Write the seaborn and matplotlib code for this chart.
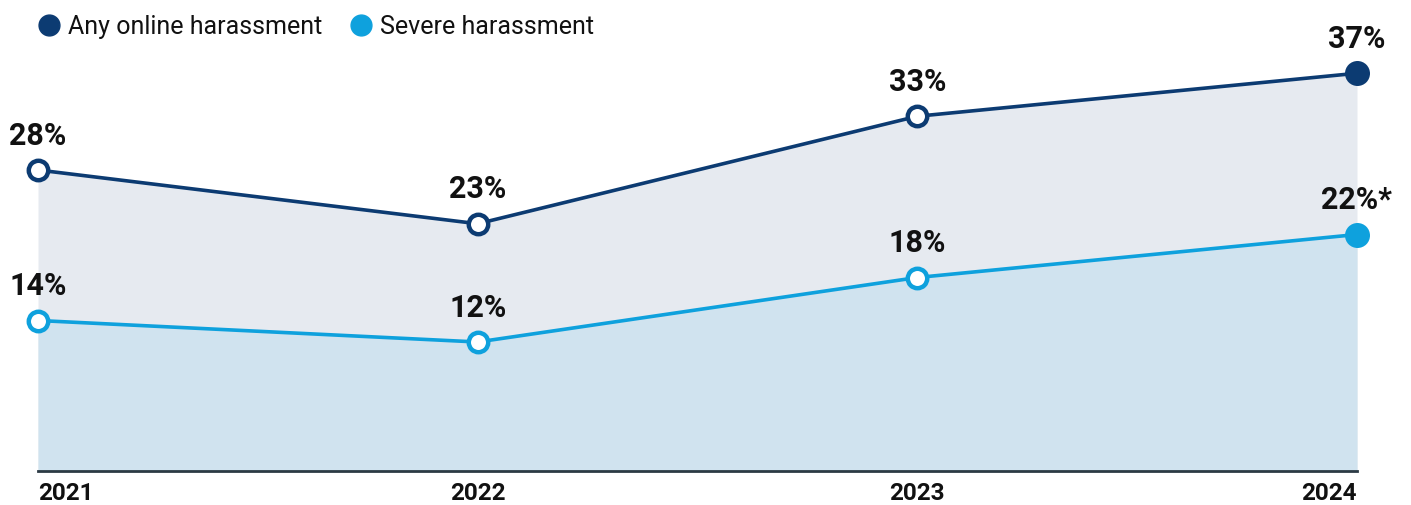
import matplotlib
matplotlib.use("Agg")
import matplotlib.pyplot as plt
from matplotlib.lines import Line2D
import seaborn as sns
import pandas as pd

years = [2021, 2022, 2023, 2024]
any_harassment = [28, 23, 33, 37]
severe_harassment = [14, 12, 18, 22]
any_labels = ["28%", "23%", "33%", "37%"]
severe_labels = ["14%", "12%", "18%", "22%*"]
series_names = ["Any online harassment", "Severe harassment"]

NAVY = "#0c3b72"
BLUE = "#0ea1dd"
FILL_ANY = "#e6eaf0"
FILL_SEVERE = "#d0e3ef"

sns.set_theme(style="white")
plt.rcParams["font.family"] = ["Roboto", "DejaVu Sans"]

df = pd.DataFrame({
    "year": years * 2,
    "value": any_harassment + severe_harassment,
    "series": [series_names[0]] * 4 + [series_names[1]] * 4,
})

fig = plt.figure(figsize=(14.11, 5.05), dpi=100)
ax = fig.add_axes([38 / 1411, 34 / 505, (1357 - 38) / 1411, (471 - 41) / 505])

ax.fill_between(years, any_harassment, 0, color=FILL_ANY, lw=0, zorder=1)
ax.fill_between(years, severe_harassment, 0, color=FILL_SEVERE, lw=0, zorder=2)

sns.lineplot(data=df, x="year", y="value", hue="series",
             palette={series_names[0]: NAVY, series_names[1]: BLUE},
             linewidth=2.6, legend=False, ax=ax, zorder=3)

for vals, labels, color in [(any_harassment, any_labels, NAVY),
                            (severe_harassment, severe_labels, BLUE)]:
    ax.plot(years[:-1], vals[:-1], ls="none", marker="o", ms=14,
            mfc="white", mec=color, mew=3.2, zorder=4, clip_on=False)
    ax.plot(years[-1:], vals[-1:], ls="none", marker="o", ms=18,
            mfc=color, mec=color, mew=0, zorder=4, clip_on=False)
    for x, v, t in zip(years, vals, labels):
        ax.annotate(t, (x, v), xytext=(0, 14), textcoords="offset points",
                    ha="center", va="bottom", fontsize=22, fontweight="bold",
                    color="#111111", zorder=5, annotation_clip=False)

ax.set_xlim(years[0], years[-1])
ax.set_ylim(0, 40)
ax.set_yticks([])
ax.set_xticks(years)
ax.set_xticklabels([str(y) for y in years], fontsize=17.5, fontweight="bold",
                   color="#111111")
ax.tick_params(axis="x", length=0, pad=8)
tl = ax.get_xticklabels()
tl[0].set_ha("left")
tl[-1].set_ha("right")
ax.set_xlabel("")
ax.set_ylabel("")
for s in ["top", "left", "right"]:
    ax.spines[s].set_visible(False)
ax.spines["bottom"].set_color("#2b3a44")
ax.spines["bottom"].set_linewidth(2)
ax.spines["bottom"].set_zorder(6)

handles = [Line2D([], [], ls="none", marker="o", ms=15, mfc=NAVY, mec=NAVY),
           Line2D([], [], ls="none", marker="o", ms=15, mfc=BLUE, mec=BLUE)]
fig.legend(handles, series_names, loc="upper left", bbox_to_anchor=(0.01, 1.015),
           ncol=2, frameon=False, fontsize=18, handletextpad=0.25,
           columnspacing=1.05, handlelength=1.0, labelcolor="#111111")

fig.savefig("out.png", dpi=100, facecolor="white")
